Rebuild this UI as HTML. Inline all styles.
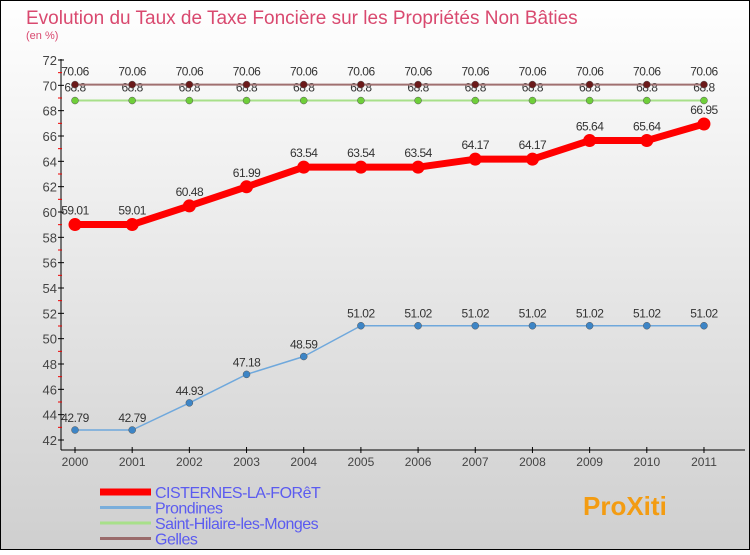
<!DOCTYPE html>
<html><head><meta charset="utf-8"><style>
body{margin:0;width:750px;height:550px;overflow:hidden;font-family:"Liberation Sans",sans-serif}
</style></head><body>
<svg width="750" height="550" xmlns="http://www.w3.org/2000/svg">
<defs><linearGradient id="bg" x1="0" y1="0" x2="0" y2="1"><stop offset="0" stop-color="#ffffff"/><stop offset="1" stop-color="#cfcfcf"/></linearGradient></defs>
<rect x="0.5" y="0.5" width="749" height="549" fill="url(#bg)" stroke="#000"/>
<text x="26" y="24" font-size="19" fill="#d9496f">Evolution du Taux de Taxe Foncière sur les Propriétés Non Bâties</text>
<text x="26" y="39" font-size="11" fill="#d9496f">(en %)</text>
<g id="axes"></g><g id="series"></g><g id="legend"></g>
</svg>
<script>
const years=["2000","2001","2002","2003","2004","2005","2006","2007","2008","2009","2010","2011"];
const yTicks=[42,44,46,48,50,52,54,56,58,60,62,64,66,68,70,72];
const cisternes=[59.01,59.01,60.48,61.99,63.54,63.54,63.54,64.17,64.17,65.64,65.64,66.95];
const prondines=[42.79,42.79,44.93,47.18,48.59,51.02,51.02,51.02,51.02,51.02,51.02,51.02];
const sthilaire=[68.8,68.8,68.8,68.8,68.8,68.8,68.8,68.8,68.8,68.8,68.8,68.8];
const gelles=[70.06,70.06,70.06,70.06,70.06,70.06,70.06,70.06,70.06,70.06,70.06,70.06];
const NS="http://www.w3.org/2000/svg";
const X=i=>75+i*57.18, Y=v=>440-(v-42)*(380/30);
function mk(t,a,p){const e=document.createElementNS(NS,t);for(const k in a)e.setAttribute(k,a[k]);p.appendChild(e);return e;}
const ax=document.getElementById('axes');
let l=mk('line',{x1:61,y1:59,x2:61,y2:450,stroke:'#000'},ax);

l=mk('line',{x1:61,y1:450,x2:745,y2:450,stroke:'#000'},ax);

yTicks.forEach(v=>{const y=Y(v);mk('line',{x1:58,y1:y,x2:64,y2:y,stroke:'#000'},ax);
 if(v<72)mk('line',{x1:58,y1:Y(v+1),x2:62,y2:Y(v+1),stroke:'#e00'},ax);
 const t=mk('text',{x:57,y:y+5,'text-anchor':'end','font-size':13,fill:'#444'},ax);t.textContent=v;
 });
years.forEach((yr,i)=>{mk('line',{x1:X(i),y1:447,x2:X(i),y2:453,stroke:'#000'},ax);
 const t=mk('text',{x:X(i),y:466,'text-anchor':'middle','font-size':12,fill:'#444'},ax);t.textContent=yr;
 });
const sg=document.getElementById('series');
function series(name,vals,col,w,r,dot,lblOff,fmt){
 const g=mk('g',{},sg);
 mk('polyline',{points:vals.map((v,i)=>X(i)+','+Y(v)).join(' '),fill:'none',stroke:col,'stroke-width':w,'stroke-linejoin':'round'},g);
 vals.forEach((v,i)=>{const c=mk('circle',{cx:X(i),cy:Y(v),r:r,fill:dot,stroke:w>3?'none':'#555','stroke-width':0.5},g);
  
  const t=mk('text',{x:X(i),y:Y(v)+lblOff,'text-anchor':'middle','font-size':12,fill:'#333','letter-spacing':'-0.5'},g);t.textContent=fmt(v);
  });
}
const f=v=>String(v).replace('.',''), f2=v=>String(v);
series('prondines',prondines,'#6fa8dc',1.5,3.5,'#3d85c6',-8,v=>v===51.02||v===47.18||v===48.59?f2(v):f(v).length==4?f2(v):f2(v));
series('saint-hilaire',sthilaire,'#a8e08a',2,3.5,'#6fcf3a',-9,f2);
series('gelles',gelles,'#a07070',2,3.5,'#6b1a1a',-9,f2);
series('cisternes',cisternes,'#ff0000',7,6.5,'#ff0000',-10,f2);
const lg=document.getElementById('legend');
[["CISTERNES-LA-FORêT","#ff0000",7],["Prondines","#7aaedb",3],["Saint-Hilaire-les-Monges","#a8e08a",3],["Gelles","#9a6b6b",3]].forEach((d,i)=>{
 const y=492+i*15.5;const g=mk('g',{},lg);
 mk('line',{x1:100,y1:y,x2:151,y2:y,stroke:d[1],'stroke-width':d[2]},g);
 const t=mk('text',{x:155,y:y+6,'font-size':16,fill:'#5b5bf0','letter-spacing':'-0.5'},g);t.textContent=d[0];});
const lo=mk('text',{x:583,y:515,'font-size':26,'font-weight':'bold',fill:'#f39c12'},lg);lo.textContent='ProXiti';

</script>
</body></html>
